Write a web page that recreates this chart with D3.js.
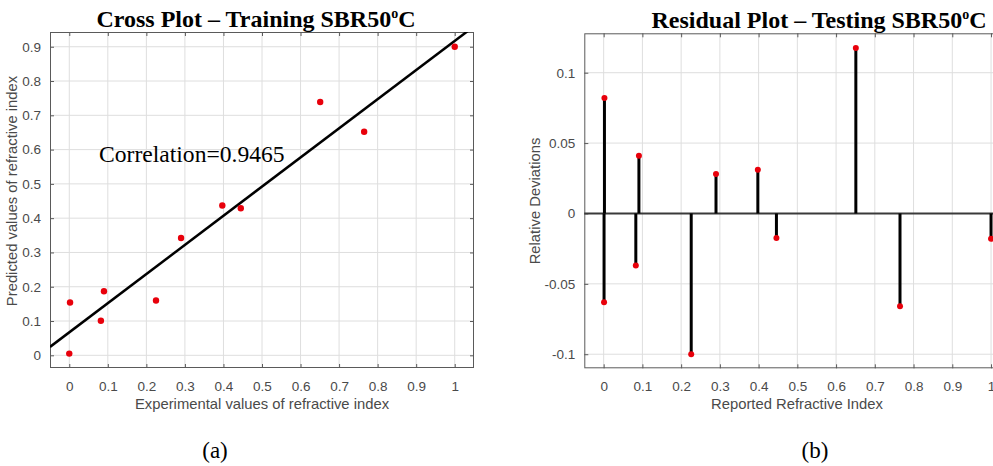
<!DOCTYPE html>
<html><head><meta charset="utf-8">
<script src="https://cdn.jsdelivr.net/npm/d3@7"></script>
<style>body{margin:0;background:#fff;}svg{display:block;}</style>
</head><body>
<svg id="c" width="993" height="466"></svg>
<script>
// Cross plot (training)
const crossX = [0.000, 0.002, 0.082, 0.090, 0.225, 0.290, 0.397, 0.445, 0.651, 0.765, 1.000];
const crossY = [0.005, 0.154, 0.101, 0.187, 0.160, 0.342, 0.437, 0.429, 0.739, 0.652, 0.900];
const fitIntercept = 0.067, fitSlope = 0.85;
const correlationText = "Correlation=0.9465";
// Residual plot (testing)
const resX = [0.002, 0.001, 0.083, 0.091, 0.226, 0.290, 0.398, 0.446, 0.651, 0.765, 1.000];
const resY = [0.082, -0.063, -0.037, 0.041, -0.100, 0.028, 0.031, -0.0175, 0.1175, -0.066, -0.018];
const xTicks = [0,0.1,0.2,0.3,0.4,0.5,0.6,0.7,0.8,0.9,1];
const crossYTicks = [0,0.1,0.2,0.3,0.4,0.5,0.6,0.7,0.8,0.9];
const resYTicks = [-0.1,-0.05,0,0.05,0.1];

const svg = d3.select("#c");
const gridCol = "#dedede", boxCol = "#5a5a5a", txtCol = "#4a4a4a";
const fmt = d => (d===0 ? "0" : String(+d.toFixed(2)));

function frame(g, x, y, xt, yt) {
  const [x0,x1] = x.range(), [y0,y1] = y.range();
  g.append("g").selectAll("line").data(xt).join("line")
    .attr("x1",d=>x(d)).attr("x2",d=>x(d)).attr("y1",y1).attr("y2",y0)
    .attr("stroke",gridCol).attr("stroke-width",1);
  g.append("g").selectAll("line").data(yt).join("line")
    .attr("y1",d=>y(d)).attr("y2",d=>y(d)).attr("x1",x0).attr("x2",x1)
    .attr("stroke",gridCol).attr("stroke-width",1);
  const ax = (gen, tx) => g.append("g").attr("transform",tx).call(gen)
      .call(s=>{s.select(".domain").remove(); s.selectAll("text").attr("fill",txtCol)
        .attr("font-family","Liberation Sans, Arial, sans-serif").attr("font-size",13.5);
        s.selectAll("line").attr("stroke",boxCol);});
  ax(d3.axisBottom(x).tickValues(xt).tickFormat(fmt).tickSizeInner(-4).tickPadding(13), `translate(0,${y0})`);
  ax(d3.axisTop(x).tickValues(xt).tickFormat("").tickSizeInner(-4), `translate(0,${y1})`);
  ax(d3.axisLeft(y).tickValues(yt).tickFormat(fmt).tickSizeInner(-4).tickPadding(9), `translate(${x0},0)`);
  ax(d3.axisRight(y).tickValues(yt).tickFormat("").tickSizeInner(-4), `translate(${x1},0)`);
  g.append("rect").attr("x",x0+0.5).attr("y",y1+0.5).attr("width",x1-x0-1).attr("height",y0-y1-1)
    .attr("fill","none").attr("stroke",boxCol).attr("stroke-width",1);
}
function title(x, yb, main) {
  const t = svg.append("text").attr("x",x).attr("y",yb).attr("text-anchor","middle")
    .attr("font-family","Liberation Serif, Times New Roman, serif").attr("font-weight","bold")
    .attr("font-size",24).attr("fill","#000");
  t.append("tspan").text(main);
  t.append("tspan").text("o").attr("font-size",14).attr("dy",-9);
  t.append("tspan").text("C").attr("dy",9);
}
function label(x, y, txt, rot) {
  svg.append("text").attr("transform",`translate(${x},${y})${rot?" rotate(-90)":""}`)
    .attr("text-anchor","middle").attr("font-family","Liberation Sans, Arial, sans-serif")
    .attr("font-size",14.8).attr("fill",txtCol).text(txt);
}

// ---- Left plot ----
{
  const x = d3.scaleLinear().domain([-0.05,1.05]).range([50,474]);
  const y = d3.scaleLinear().domain([-0.037,0.943]).range([368,32]);
  const g = svg.append("g");
  frame(g, x, y, xTicks, crossYTicks);
  g.append("defs").append("clipPath").attr("id","cl").append("rect")
    .attr("x",50).attr("y",32).attr("width",424).attr("height",336);
  const fx = [-0.05, 1.05];
  g.append("line").attr("clip-path","url(#cl)")
    .attr("x1",x(fx[0])).attr("y1",y(fitIntercept+fitSlope*fx[0]))
    .attr("x2",x(fx[1])).attr("y2",y(fitIntercept+fitSlope*fx[1]))
    .attr("stroke","#000").attr("stroke-width",2.5);
  g.append("g").selectAll("circle").data(crossX).join("circle")
    .attr("cx",d=>x(d)).attr("cy",(d,i)=>y(crossY[i])).attr("r",3.2).attr("fill","#e8000b");
  g.append("text").attr("x",99).attr("y",162).attr("font-family","Liberation Serif, Times New Roman, serif")
    .attr("font-size",23.6).attr("fill","#000").text(correlationText);
  title(256, 27, "Cross Plot \u2013 Training SBR50");
  label(262, 409, "Experimental values of refractive index", false);
  label(17, 191, "Predicted values of refractive index", true);
  svg.append("text").attr("x",215).attr("y",458).attr("text-anchor","middle")
    .attr("font-family","Liberation Serif, Times New Roman, serif").attr("font-size",23).text("(a)");
}
// ---- Right plot ----
{
  const x = d3.scaleLinear().domain([-0.05,1.05]).range([584.3,1010.4]);
  const y = d3.scaleLinear().domain([-0.11,0.128]).range([368.3,33.3]);
  const g = svg.append("g");
  frame(g, x, y, xTicks, resYTicks);
  g.append("line").attr("x1",x(-0.05)).attr("x2",x(1.05)).attr("y1",y(0)).attr("y2",y(0))
    .attr("stroke","#3a3a3a").attr("stroke-width",2);
  g.append("g").selectAll("line").data(resX).join("line")
    .attr("x1",d=>x(d)).attr("x2",d=>x(d)).attr("y1",y(0)).attr("y2",(d,i)=>y(resY[i]))
    .attr("stroke","#000").attr("stroke-width",3);
  g.append("g").selectAll("circle").data(resX).join("circle")
    .attr("cx",d=>x(d)).attr("cy",(d,i)=>y(resY[i])).attr("r",3).attr("fill","#e8000b");
  title(819, 28, "Residual Plot \u2013 Testing SBR50");
  label(797, 409, "Reported Refractive Index", false);
  label(540, 201, "Relative Deviations", true);
  svg.append("text").attr("x",815).attr("y",458).attr("text-anchor","middle")
    .attr("font-family","Liberation Serif, Times New Roman, serif").attr("font-size",23).text("(b)");
}
</script>
</body></html>
